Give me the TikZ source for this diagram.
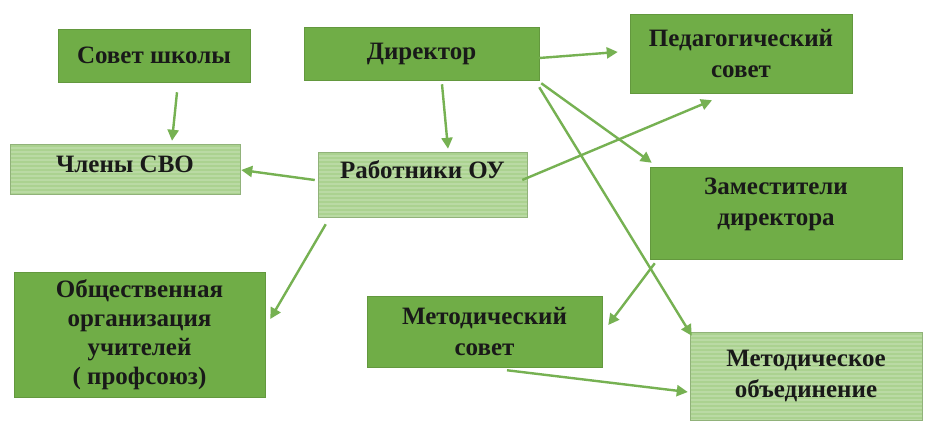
\documentclass[tikz,border=0pt]{standalone}
\usepackage{fontspec}
\setmainfont{Liberation Serif}
\usetikzlibrary{calc,arrows.meta}
\definecolor{dkg}{HTML}{70AD47}
\definecolor{ltg}{HTML}{ABD290}
\definecolor{arr}{HTML}{76B152}
\tikzset{
 box/.style={rectangle, draw=dkg!88!black, line width=0.5pt, fill=dkg, inner sep=0pt, align=center,
   font=\fontsize{25}{31}\selectfont\bfseries, text=black!90},
 lbox/.style={box, fill=ltg, draw=ltg!85!black,
   path picture={\foreach \i in {0,...,30}{\draw[white,opacity=0.18,line width=1.2pt]
     ([yshift=-\i*4pt]path picture bounding box.north west) -- ([yshift=-\i*4pt]path picture bounding box.north east);}}},
 conn/.style={draw=arr, line width=2.4pt, -{Triangle[length=11pt,width=11pt]}}
}
\begin{document}
\begin{tikzpicture}[x=1pt,y=-1pt]
\useasboundingbox[fill=white] (0,0) rectangle (925,421);
\node[box, minimum width=192pt, minimum height=53pt] (sovet) at (154,55.5) {Совет школы};
\node[box, minimum width=235pt, minimum height=53pt] (dir) at (421.5,53.5) {Директор};
\node[box, minimum width=222pt, minimum height=79pt] (ped) at (741,53.5) {Педагогический\\совет};
\node[lbox, minimum width=230pt, minimum height=50pt, text depth=10pt] (chleny) at (125,169) {Члены СВО};
\node[lbox, minimum width=209pt, minimum height=65pt, text depth=30pt] (rab) at (422.5,184.5) {Работники ОУ};
\node[box, minimum width=252pt, minimum height=92pt, text depth=22pt] (zam) at (776,213) {Заместители\\директора};
\node[box, minimum width=251pt, minimum height=125pt, font=\fontsize{25}{29}\selectfont\bfseries] (obsh) at (139.5,334.5) {Общественная\\организация\\учителей\\( профсоюз)};
\node[box, minimum width=235pt, minimum height=71pt] (metsov) at (484.5,331.5) {Методический\\совет};
\node[lbox, minimum width=232pt, minimum height=88pt] (metob) at (806,376) {Методическое\\объединение};

\draw[conn] ($(sovet.south)+(23,10)$) -- ($(chleny.north)+(47,-3)$);
\draw[conn] ($(dir.south)+(20.5,4)$) -- ($(rab.north)+(25.5,-3)$);
\draw[conn] ($(rab.west)+(-3,-4.5)$) -- ($(chleny.east)+(1,1)$);
\draw[conn] ($(dir.east)+(0,4.5)$) -- ($(ped.west)+(-12,-1.5)$);
\draw[conn] ($(rab.east)+(-5,-4.5)$) -- ($(ped.south)+(-29,7)$);
\draw[conn] ($(dir.south east)+(2,3)$) -- ($(zam.north west)+(2,-4)$);
\draw[conn] ($(dir.south east)+(0,7)$) -- ($(metob.north west)+(2,4)$);
\draw[conn] ($(zam.south west)+(5,4)$) -- ($(metsov.east)+(6,-6.5)$);
\draw[conn] ($(metsov.south)+(22.5,3)$) -- ($(metob.west)+(-2,16)$);
\draw[conn] ($(rab.south west)+(8,7)$) -- ($(obsh.east)+(5,-15.5)$);
\end{tikzpicture}
\end{document}
